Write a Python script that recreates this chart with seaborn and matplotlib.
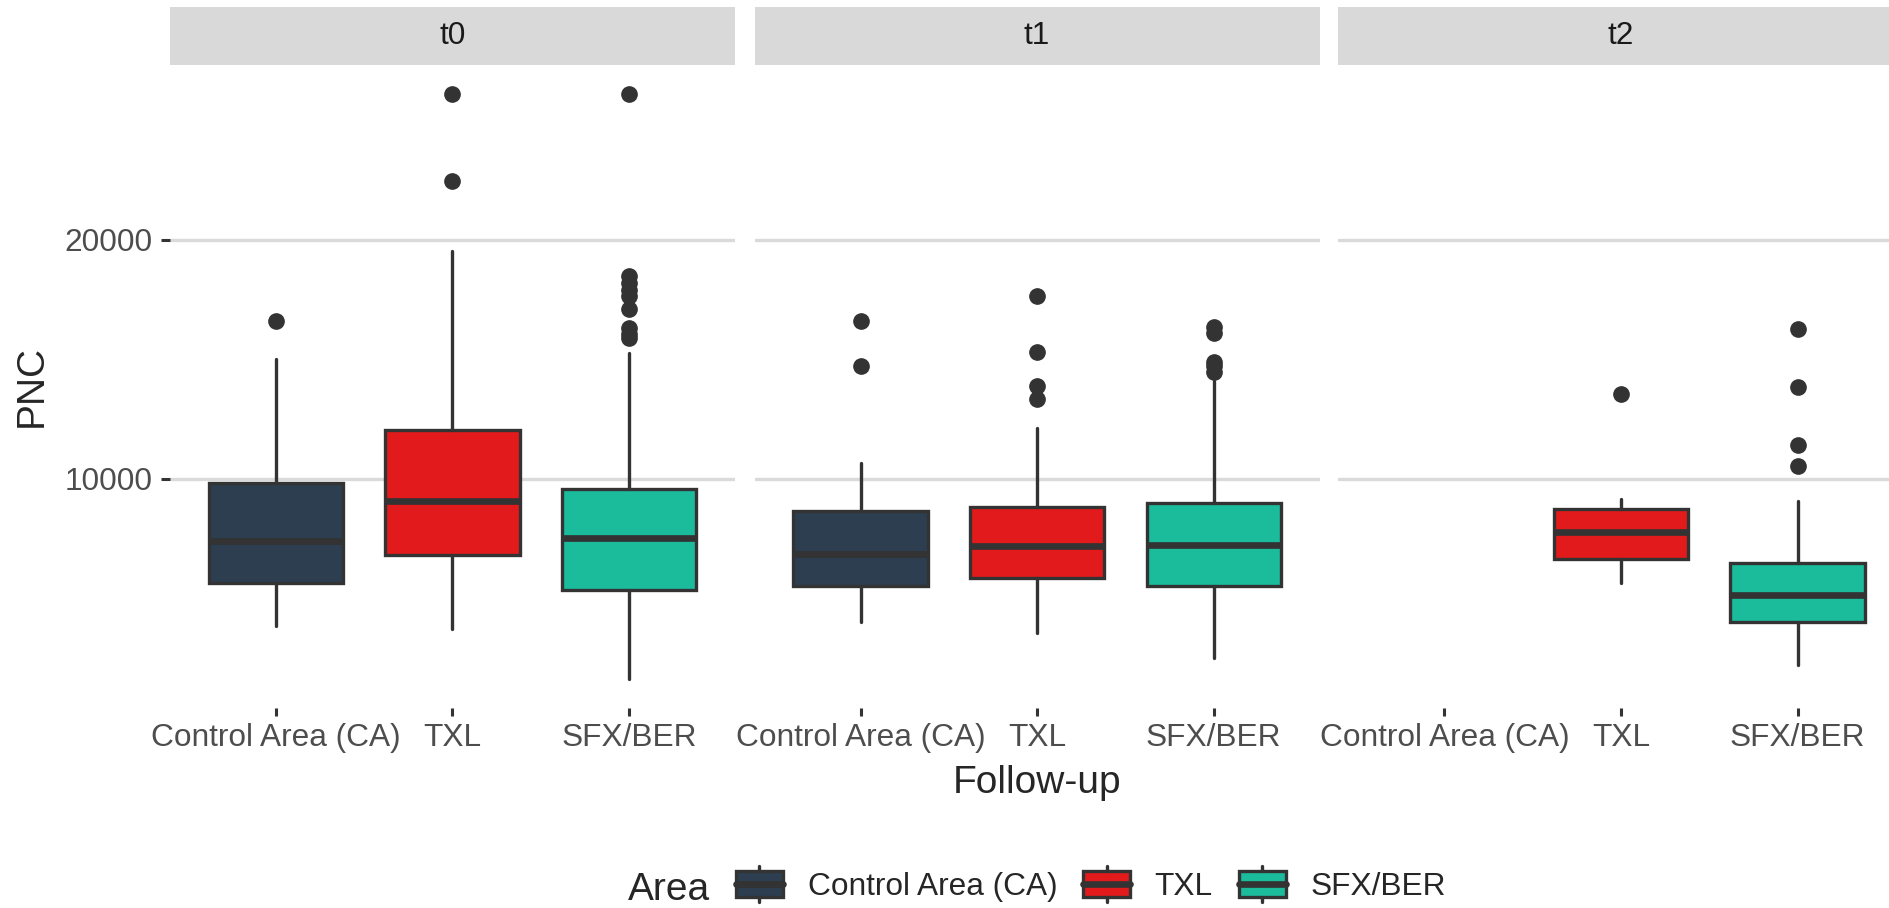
import numpy as np
import matplotlib
matplotlib.use('Agg')
import matplotlib.pyplot as plt
import seaborn as sns
from matplotlib.patches import Rectangle, Patch
from matplotlib.lines import Line2D
from matplotlib.legend_handler import HandlerBase

# Facets (follow-up) and areas
FACETS = ["t0", "t1", "t2"]
AREAS = ["Control Area (CA)", "TXL", "SFX/BER"]
COLORS = ["#2C3E50", "#E31A1C", "#1ABC9C"]

# Box statistics, one row per facet, one entry per area
# (None = no data for that area at that follow-up)
whisker_low = [[3810, 3690, 1610], [3990, 3530, 2470], [None, 5610, 2170]]
q1 = [[5630, 6800, 5340], [5500, 5820, 5480], [None, 6630, 3990]]
median = [[7370, 9040, 7500], [6840, 7190, 7220], [None, 7750, 5130]]
q3 = [[9830, 12030, 9550], [8620, 8800, 8990], [None, 8710, 6450]]
whisker_high = [[15010, 19540, 15260], [10660, 12130, 14100], [None, 9140, 9040]]
outliers = [
    [[16590], [26100, 22480], [26100, 18490, 18200, 17900, 17650, 17100, 16300, 16050, 15900]],
    [[16590, 14700], [17640, 15300, 13860, 13340], [16350, 16100, 14900, 14700, 14450]],
    [[], [13540], [16270, 13840, 11400, 10520]],
]
Y_TICKS = [10000, 20000]

EDGE = "#333333"
W, H = 1890, 908

sns.set_theme(style="white")
plt.rcParams['font.family'] = ['Liberation Sans', 'DejaVu Sans']


class BoxKey(HandlerBase):
    # ggplot-like boxplot legend key
    def create_artists(self, legend, orig_handle, xdescent, ydescent,
                       width, height, fontsize, trans):
        x0, y0 = -xdescent, -ydescent
        stub = height * 0.14
        xm = x0 + width / 2
        rect = Rectangle((x0, y0 + stub), width, height - 2 * stub,
                         facecolor=orig_handle.get_facecolor(), edgecolor=EDGE,
                         lw=2.4, transform=trans)
        med = Line2D([x0, x0 + width], [y0 + height / 2] * 2, color=EDGE, lw=4.8, transform=trans)
        top = Line2D([xm, xm], [y0 + height - stub, y0 + height], color=EDGE, lw=2.4, transform=trans)
        bot = Line2D([xm, xm], [y0, y0 + stub], color=EDGE, lw=2.4, transform=trans)
        return [rect, med, top, bot]


# shared y range with ggplot-style 5% expansion
vals = []
for i in range(3):
    for j in range(3):
        if median[i][j] is not None:
            vals += [whisker_low[i][j], whisker_high[i][j]] + outliers[i][j]
lo, hi = min(vals), max(vals)
pad = (hi - lo) * 0.05

fig = plt.figure(figsize=(W / 100, H / 100), dpi=100)

panel_left = [170, 754.6, 1338.5]
panel_w, panel_top, panel_bot = 565, 65, 708
strip_h = 58

for i, facet in enumerate(FACETS):
    ax = fig.add_axes([panel_left[i] / W, (H - panel_bot) / H,
                       panel_w / W, (panel_bot - panel_top) / H])
    stats, pos, cols = [], [], []
    for j in range(3):
        if median[i][j] is None:
            continue
        stats.append(dict(whislo=whisker_low[i][j], q1=q1[i][j], med=median[i][j],
                          q3=q3[i][j], whishi=whisker_high[i][j],
                          fliers=np.array(outliers[i][j], dtype=float)))
        pos.append(j + 1)
        cols.append(COLORS[j])
    bp = ax.bxp(stats, positions=pos, widths=0.76, patch_artist=True, showcaps=False,
                boxprops=dict(edgecolor=EDGE, linewidth=2.4),
                medianprops=dict(color=EDGE, linewidth=4.8, solid_capstyle='butt'),
                whiskerprops=dict(color=EDGE, linewidth=2.4),
                flierprops=dict(marker='o', markerfacecolor=EDGE, markeredgecolor=EDGE,
                                markersize=11, linestyle='none'))
    for patch, c in zip(bp['boxes'], cols):
        patch.set_facecolor(c)

    ax.set_xlim(0.4, 3.6)
    ax.set_ylim(lo - pad, hi + pad)
    ax.set_xticks([1, 2, 3])
    ax.set_xticklabels(AREAS, fontsize=22.8, color="#4D4D4D")
    ax.set_yticks(Y_TICKS)
    ax.set_yticklabels([str(t) for t in Y_TICKS], fontsize=22.8, color="#4D4D4D")
    ax.set_axisbelow(True)
    ax.yaxis.grid(True, color="#DADADA", linewidth=2.4)
    ax.xaxis.grid(False)
    for s in ax.spines.values():
        s.set_visible(False)
    ax.tick_params(axis='x', bottom=True, length=5.8, width=2.2, color=EDGE, pad=5)
    if i == 0:
        ax.tick_params(axis='y', left=True, length=6.5, width=2.2, color=EDGE, pad=6)
    else:
        ax.tick_params(axis='y', left=False, labelleft=False)

    # facet strip
    ax.add_patch(Rectangle((0, 1), 1, strip_h / (panel_bot - panel_top), transform=ax.transAxes,
                           facecolor="#D9D9D9", edgecolor='none', clip_on=False))
    ax.text(0.5, 1 + strip_h / 2 / (panel_bot - panel_top), facet, transform=ax.transAxes,
            ha='center', va='center', fontsize=22.8, color="#1A1A1A")

# axis titles
fig.text(1036.7 / W, (H - 783) / H, "Follow-up", ha='center', va='center', fontsize=28)
fig.text(31.5 / W, (H - 386) / H, "PNC", ha='center', va='center', rotation=90, fontsize=28)

# legend at the bottom
fig.text(628 / W, (H - 900) / H, "Area", ha='left', va='baseline', fontsize=28)
handles = [Patch(facecolor=c) for c in COLORS]
fig.legend(handles, AREAS, handler_map={Patch: BoxKey()}, loc='center left',
           bbox_to_anchor=(736 / W, (H - 884) / H), ncol=3, frameon=False,
           fontsize=22.8, handlelength=1.48, handleheight=1.42, handletextpad=0.78,
           columnspacing=0.82, borderpad=0, borderaxespad=0)

fig.savefig("out.png", dpi=100)
